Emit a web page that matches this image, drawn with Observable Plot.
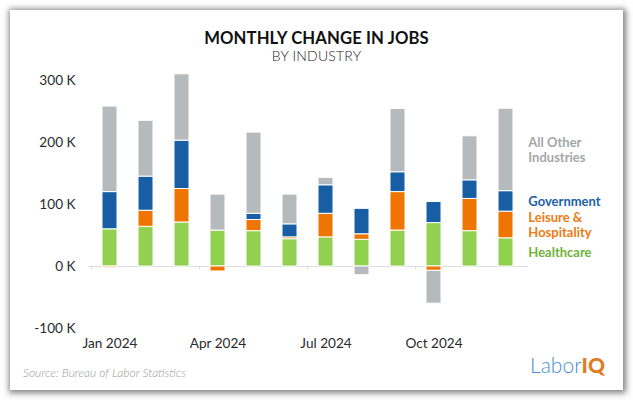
<!DOCTYPE html>
<html>
<head>
<meta charset="utf-8">
<script src="https://cdn.jsdelivr.net/npm/d3@7"></script>
<script src="https://cdn.jsdelivr.net/npm/@observablehq/plot@0.6"></script>
<style>
  body { margin: 0; background: #fff; font-family: Lato, "Open Sans", sans-serif; }
  #wrap { position: relative; width: 633px; height: 400px; overflow: hidden; background: #fff; }
  #card { position: absolute; left: 10px; top: 10px; width: 613px; height: 380px; background: #fff;
          box-shadow: 1px 1px 6px 2px rgba(0,0,0,0.5); }
  #title { position: absolute; left: 0; width: 633px; top: 29px; height: 18px; line-height: 18px; text-align: center;
           font-weight: 700; font-size: 16.7px; color: #111; letter-spacing: 0.1px; }
  #subtitle { position: absolute; left: 0; width: 633px; top: 48px; height: 16px; line-height: 16px; text-align: center;
              font-weight: 300; font-size: 14px; color: #222; letter-spacing: 0.2px; }
  #chart { position: absolute; left: 0; top: 0; }
  #source { position: absolute; left: 23px; top: 365px; font-style: italic; font-weight: 300;
            font-size: 12px; color: #999; }
  #logo { position: absolute; right: 28px; top: 353px; font-size: 21px; line-height: 24px; }
  #logo .a { color: #4a8fd0; font-weight: 300; }
  #logo .b { color: #e07b24; font-weight: 900; }
</style>
</head>
<body>
<div id="wrap">
  <div id="card"></div>
  <div id="chart"></div>
  <div id="title">MONTHLY CHANGE IN JOBS</div>
  <div id="subtitle">BY INDUSTRY</div>
  <div id="source">Source: Bureau of Labor Statistics</div>
  <div id="logo"><span class="a">Labor</span><span class="b">IQ</span></div>
</div>
<script>
// ---- data (thousands of jobs) ----
const months = ["Jan","Feb","Mar","Apr","May","Jun","Jul","Aug","Sep","Oct","Nov","Dec"];
const year = "2024";
const quarterMonths = ["Jan","Apr","Jul","Oct"];
const industries = ["Healthcare","Leisure & Hospitality","Government","All Other Industries"];
const healthcare  = [60, 64, 71, 58, 57, 44, 47, 43, 58, 70, 57, 45.5];
const leisure     = [-2, 26, 54, -8, 18, 3, 38, 9, 62, -7, 52, 43];
const government  = [60, 55, 78, 0, 10, 21, 46, 41, 32, 34, 30, 33];
const otherInd    = [138, 90, 107, 58, 131, 48, 12, -14, 102, -53, 71, 133];
const legendText  = ["Healthcare", "Leisure &\nHospitality", "Government", "All Other\nIndustries"];
const yTickCount = 4;

// ---- styles ----
const barColors  = ["#92d050", "#ee7600", "#175ea4", "#b7babd"];
const textColors = ["#6fb23b", "#ee7a12", "#1b5fa5", "#a4a6a8"];

const series = [healthcare, leisure, government, otherInd];
const rows = [];
months.forEach((m, i) => {
  industries.forEach((ind, k) => rows.push({month: m, industry: ind, value: series[k][i] * 1000}));
});

// direct labels at the midpoints of the last month's stacked segments
const last = months.length - 1;
let acc = 0;
const labels = industries.map((ind, k) => {
  const v = series[k][last] * 1000;
  const y = acc + v / 2;
  acc += v;
  return {month: months[last], y, text: legendText[k], color: textColors[k]};
});

const W = 633, H = 400, mL = 88, mR = 105, mT = 80, mB = 72;
const step = (W - mL - mR) / months.length;

const plot = Plot.plot({
  width: W, height: H,
  marginLeft: mL, marginRight: mR, marginTop: mT, marginBottom: mB,
  style: {background: "transparent", fontFamily: "Lato, 'Open Sans', sans-serif", fontSize: "13.6px", color: "#2a2a2a"},
  x: {type: "band", domain: months, paddingInner: 0.58, paddingOuter: 0.29, label: null,
      tickSize: 0, tickPadding: 10,
      tickFormat: d => quarterMonths.includes(d) ? `${d} ${year}` : ""},
  y: {domain: [-100000, 300000], ticks: yTickCount, tickFormat: d => `${d / 1000} K`,
      tickSize: 0, tickPadding: 13, label: null},
  color: {domain: industries, range: barColors},
  marks: [
    Plot.ruleY([0], {stroke: "#dcdcdc", strokeWidth: 1}),
    Plot.ruleX(quarterMonths, {x: d => d, y1: 0, y2: -6000, dx: -step / 2, stroke: "#dcdcdc"}),
    Plot.barY(rows, {x: "month", y: "value", fill: "industry", stroke: "white", strokeWidth: 1}),
    ...labels.map(l => Plot.text([l], {
      x: "month", y: "y", text: "text", fill: l.color, textAnchor: "start", dx: step / 2 + 4,
      fontSize: 13, fontWeight: 700, lineAnchor: "middle", lineHeight: 1.15
    }))
  ]
});
document.getElementById("chart").appendChild(plot);
</script>
</body>
</html>
